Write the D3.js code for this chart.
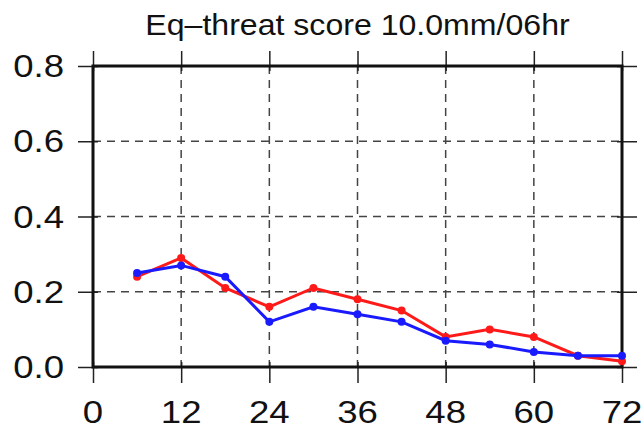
<!DOCTYPE html>
<html>
<head>
<meta charset="utf-8">
<script src="https://cdn.jsdelivr.net/npm/d3@7"></script>
<style>
  body { margin: 0; background: #fff; }
  svg { display: block; }
</style>
</head>
<body>
<div class="chart"></div>
<script>
let title = "Eq\u2013threat score 10.0mm/06hr";
let hours = [6, 12, 18, 24, 30, 36, 42, 48, 54, 60, 66, 72];
let redScores  = [0.24, 0.29, 0.21, 0.16, 0.21, 0.18, 0.15, 0.08, 0.10, 0.08, 0.03, 0.015];
let blueScores = [0.25, 0.27, 0.24, 0.12, 0.16, 0.14, 0.12, 0.07, 0.06, 0.04, 0.03, 0.03];
let xTicks = [0, 12, 24, 36, 48, 60, 72];
let yTicks = [0, 0.2, 0.4, 0.6, 0.8];

let W = 644, H = 432;
let margin = { top: 66, right: 22, bottom: 65, left: 93 };
let width  = W - margin.left - margin.right;
let height = H - margin.top - margin.bottom;

let svg = d3.select(".chart")
    .append("svg")
        .attr("width", W)
        .attr("height", H)
        .style("font-family", "'Liberation Sans', Arial, Helvetica, sans-serif");

let g = svg.append("g")
    .attr("transform", `translate(${margin.left}, ${margin.top})`);

let xScale = d3.scaleLinear().domain([0, 72]).range([0, width]);
let yScale = d3.scaleLinear().domain([0, 0.8]).range([height, 0]);

// dashed grid
g.append("g")
    .selectAll("line")
    .data(xTicks.slice(1, -1))
    .enter()
    .append("line")
    .attr("x1", d => xScale(d)).attr("x2", d => xScale(d))
    .attr("y1", 0).attr("y2", height)
    .attr("stroke", "#444").attr("stroke-width", 1.5)
    .attr("stroke-dasharray", "8,6");

g.append("g")
    .selectAll("line")
    .data(yTicks.slice(1, -1))
    .enter()
    .append("line")
    .attr("y1", d => yScale(d)).attr("y2", d => yScale(d))
    .attr("x1", 0).attr("x2", width)
    .attr("stroke", "#444").attr("stroke-width", 1.5)
    .attr("stroke-dasharray", "8,6");

// ticks crossing the frame: long outside, short inside
let tickAxis = (axis, transform, size, inner) => {
    g.append("g")
        .attr("transform", transform)
        .call(axis.tickSizeInner(size).tickSizeOuter(0).tickFormat(""))
        .call(a => a.select(".domain").remove())
        .selectAll("line").attr("stroke", "#222").attr("stroke-width", 1.5);
    g.append("g")
        .attr("transform", transform)
        .call(axis.tickSizeInner(-inner).tickSizeOuter(0).tickFormat(""))
        .call(a => a.select(".domain").remove())
        .selectAll("line").attr("stroke", "#222").attr("stroke-width", 1.5);
};
tickAxis(d3.axisBottom(xScale).tickValues(xTicks), `translate(0, ${height})`, 16, 5);
tickAxis(d3.axisTop(xScale).tickValues(xTicks), "translate(0, 0)", 15, 5);
tickAxis(d3.axisLeft(yScale).tickValues(yTicks), "translate(0, 0)", 15, 5);
tickAxis(d3.axisRight(yScale).tickValues(yTicks), `translate(${width}, 0)`, 15, 5);

// tick labels, stretched a little wider like the reference font
g.append("g")
    .selectAll("text")
    .data(xTicks)
    .enter()
    .append("text")
    .attr("transform", d => `translate(${xScale(d)}, ${height + 56}) scale(1.18, 1)`)
    .attr("text-anchor", "middle")
    .attr("font-size", 31)
    .attr("fill", "#111")
    .text(d => d);

g.append("g")
    .selectAll("text")
    .data(yTicks)
    .enter()
    .append("text")
    .attr("transform", d => `translate(-29, ${yScale(d) + 11}) scale(1.18, 1)`)
    .attr("text-anchor", "end")
    .attr("font-size", 31)
    .attr("fill", "#111")
    .text(d => d.toFixed(1));

// frame
g.append("rect")
    .attr("width", width).attr("height", height)
    .attr("fill", "none").attr("stroke", "#111").attr("stroke-width", 3);

// series
let series = [
    { values: redScores, color: "#ff1a1a" },
    { values: blueScores, color: "#1a1aff" }
];
let line = d3.line()
    .x((d, i) => xScale(hours[i]))
    .y(d => yScale(d));

series.forEach(s => {
    g.append("path")
        .datum(s.values)
        .attr("fill", "none")
        .attr("stroke", s.color)
        .attr("stroke-width", 3)
        .attr("d", line);
    g.append("g")
        .selectAll("circle")
        .data(s.values)
        .enter()
        .append("circle")
        .attr("cx", (d, i) => xScale(hours[i]))
        .attr("cy", d => yScale(d))
        .attr("r", 4)
        .attr("fill", s.color);
});

// title
svg.append("text")
    .attr("transform", `translate(${margin.left + width / 2}, 35) scale(1.07, 1)`)
    .attr("text-anchor", "middle")
    .attr("font-size", 30)
    .attr("fill", "#111")
    .text(title);
</script>
</body>
</html>
